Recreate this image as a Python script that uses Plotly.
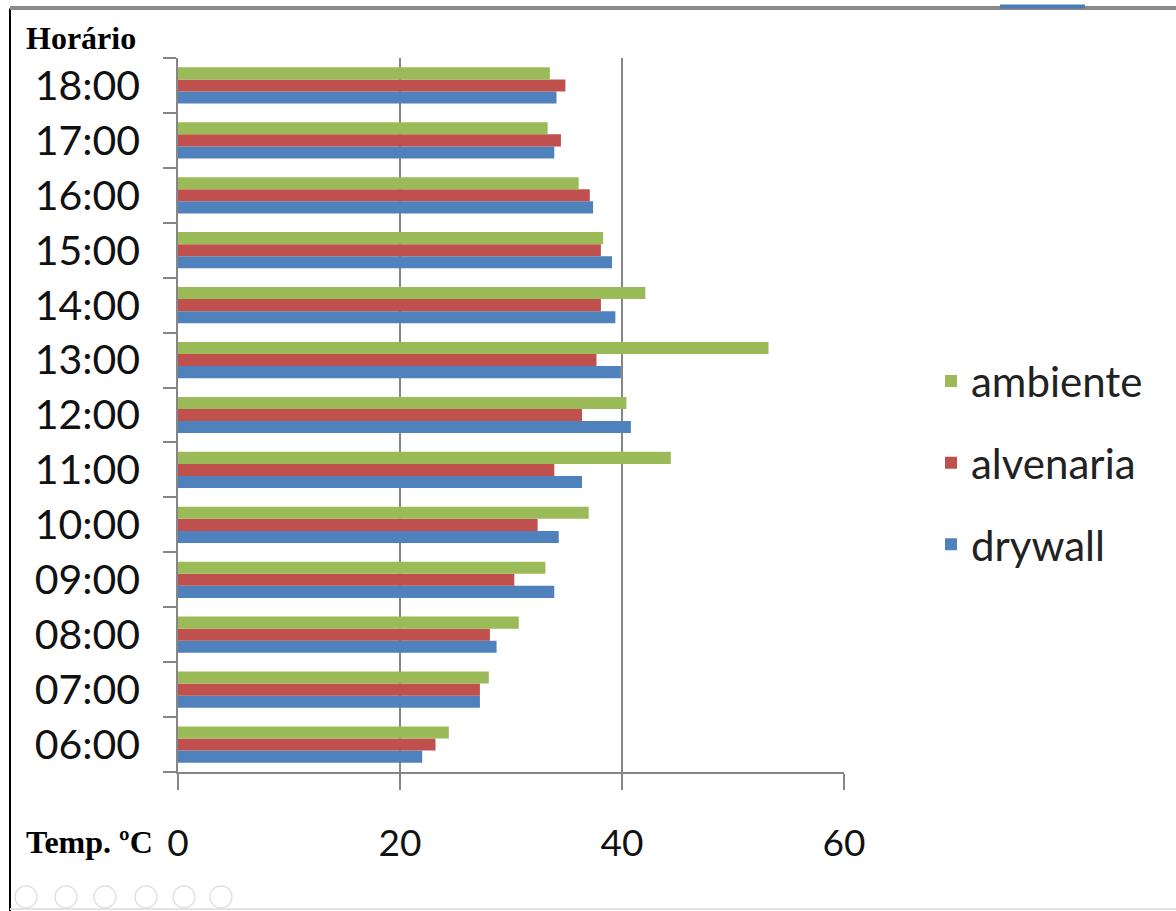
import plotly.graph_objects as go

horarios = ["06:00", "07:00", "08:00", "09:00", "10:00", "11:00", "12:00",
            "13:00", "14:00", "15:00", "16:00", "17:00", "18:00"]
drywall = [22.0, 27.2, 28.7, 33.9, 34.3, 36.4, 40.8, 39.9, 39.4, 39.1, 37.4, 33.9, 34.1]
alvenaria = [23.2, 27.2, 28.1, 30.3, 32.4, 33.9, 36.4, 37.7, 38.1, 38.1, 37.1, 34.5, 34.9]
ambiente = [24.4, 28.0, 30.7, 33.1, 37.0, 44.4, 40.4, 53.2, 42.1, 38.3, 36.1, 33.3, 33.5]

series = [("drywall", drywall, "#4F81BD", 3),
          ("alvenaria", alvenaria, "#C0504D", 2),
          ("ambiente", ambiente, "#9BBB59", 1)]

W, H = 1176, 911
L, R, T, B = 178, 844, 57.5, 772  # plot area in screen pixels


def px(x):
    return (x - L) / (R - L)


def py(y):
    return (B - y) / (B - T)


fig = go.Figure()
for name, vals, col, rank in series:
    fig.add_trace(go.Bar(y=horarios, x=vals, name=name, orientation="h",
                         marker=dict(color=col, line=dict(width=0)),
                         legendgroup=name, legendrank=rank))

axis_col = "#868686"
ytick_font = dict(family="Lato, Carlito, sans-serif", size=41, color="#111111")
xtick_font = dict(family="Lato, Carlito, sans-serif", size=37, color="#111111")

fig.update_layout(
    width=W, height=H,
    margin=dict(l=L, r=W - R, t=T, b=H - B, autoexpand=False),
    paper_bgcolor="white", plot_bgcolor="white",
    barmode="group", bargap=0.34, bargroupgap=0,
    showlegend=True,
    legend=dict(x=px(931), y=py(347), xanchor="left", yanchor="top",
                traceorder="grouped", tracegroupgap=24,
                font=dict(family="Lato, Carlito, sans-serif", size=42, color="#222222"),
                bgcolor="rgba(0,0,0,0)", itemwidth=30),
    xaxis=dict(range=[0, 60], dtick=20, tick0=0, showgrid=True, gridcolor=axis_col,
               gridwidth=1.5, zeroline=False, showline=True, linecolor=axis_col,
               linewidth=1.5, ticks="outside", ticklen=16, tickcolor=axis_col,
               tickwidth=1.5, tickfont=xtick_font, ticklabelstandoff=22, fixedrange=True),
    yaxis=dict(categoryorder="array", categoryarray=horarios, showgrid=False,
               zeroline=False, showline=True, linecolor=axis_col, linewidth=1.5,
               ticks="outside", ticklen=13, tickcolor=axis_col, tickwidth=1.5,
               tickson="boundaries", tickfont=ytick_font, ticklabelstandoff=28,
               fixedrange=True),
)

serif = dict(family="Liberation Serif, Times New Roman, serif", size=32, color="#000000")
fig.add_annotation(text="<b>Horário</b>", xref="paper", yref="paper",
                   x=px(24), y=py(37), xanchor="left", yanchor="middle",
                   showarrow=False, font=serif)
fig.add_annotation(text="<b>Temp. ºC</b>", xref="paper", yref="paper",
                   x=px(24), y=py(842), xanchor="left", yanchor="middle",
                   showarrow=False, font=serif)

# slide frame
fig.add_shape(type="line", xref="paper", yref="paper", x0=px(10), x1=px(10),
              y0=py(8), y1=py(911), line=dict(color="#000000", width=2))
fig.add_shape(type="line", xref="paper", yref="paper", x0=px(10), x1=px(1176),
              y0=py(7.5), y1=py(7.5), line=dict(color="#8a8a8a", width=4))
fig.add_shape(type="line", xref="paper", yref="paper", x0=px(1000), x1=px(1085),
              y0=py(6), y1=py(6), line=dict(color="#4a7ab8", width=4))
fig.add_shape(type="line", xref="paper", yref="paper", x0=px(10), x1=px(1176),
              y0=py(909), y1=py(909), line=dict(color="#e3e3e3", width=2))
for cx in [26, 66, 105, 146, 184, 221]:
    fig.add_shape(type="circle", xref="paper", yref="paper",
                  x0=px(cx - 11), x1=px(cx + 11), y0=py(886), y1=py(908),
                  line=dict(color="#dddddd", width=1.2))

fig.write_html("out.html", config={"displayModeBar": False},
               post_script="document.body.style.margin='0';document.body.style.overflow='hidden';")
